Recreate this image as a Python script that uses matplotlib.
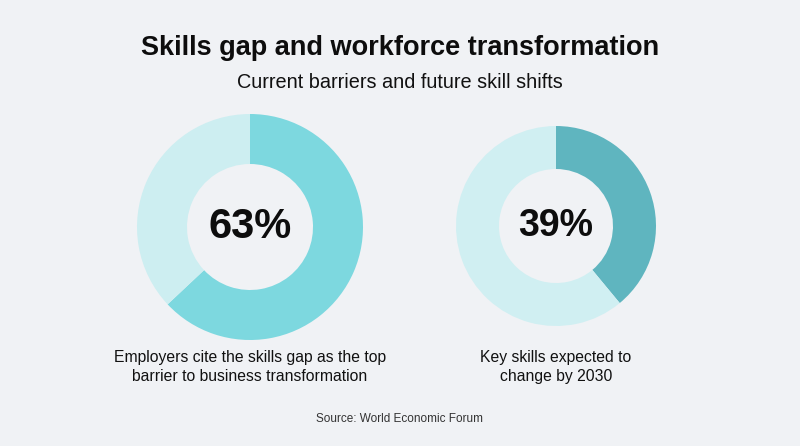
import matplotlib
matplotlib.use("Agg")
import matplotlib.pyplot as plt

plt.rcParams['font.family'] = ['Liberation Sans', 'DejaVu Sans']

title = "Skills gap and workforce transformation"
subtitle = "Current barriers and future skill shifts"
source = "Source: World Economic Forum"
values = [63, 39]
labels = ["Employers cite the skills gap as the top\nbarrier to business transformation",
          "Key skills expected to\nchange by 2030"]
fill_colors = ["#7dd8df", "#5fb5bf"]
track_colors = ["#cdeef1", "#d0eff2"]

W, H = 800, 446
bg = "#f0f2f5"
fig = plt.figure(figsize=(W / 100, H / 100), dpi=100, facecolor=bg)

# donut geometry in pixels: center x, center y (from top), outer r, inner r
geoms = [(250, 227, 113, 63), (556, 226, 100, 57)]
num_sizes = [30, 27]

for i, (cx, cy, ro, ri) in enumerate(geoms):
    ax = fig.add_axes([(cx - ro) / W, (H - cy - ro) / H, 2 * ro / W, 2 * ro / H])
    ax.set_facecolor('none')
    v = values[i]
    ax.pie([v, 100 - v], colors=[fill_colors[i], track_colors[i]], startangle=90,
           counterclock=False, radius=1,
           wedgeprops=dict(width=(ro - ri) / ro, linewidth=0))
    ax.set_xlim(-1, 1)
    ax.set_ylim(-1, 1)
    ax.set_aspect('equal')
    ax.axis('off')
    ax.text(0, 0, f"{v}%", ha='center', va='center', fontsize=num_sizes[i],
            fontweight='bold', color='#0d0d0d')
    fig.text(cx / W, 1 - 367 / H, labels[i], ha='center', va='center',
             fontsize=11.3, color='#111111', linespacing=1.3)

fig.text(0.5, 1 - 48 / H, title, ha='center', va='center', fontsize=19.5,
         fontweight='bold', color='#0d0d0d')
fig.text(0.5, 1 - 83 / H, subtitle, ha='center', va='center', fontsize=14.3,
         color='#111111')
fig.text(0.5, 1 - 419 / H, source, ha='center', va='center', fontsize=8.5,
         color='#333333')

fig.savefig("out.png", dpi=100, facecolor=bg)
